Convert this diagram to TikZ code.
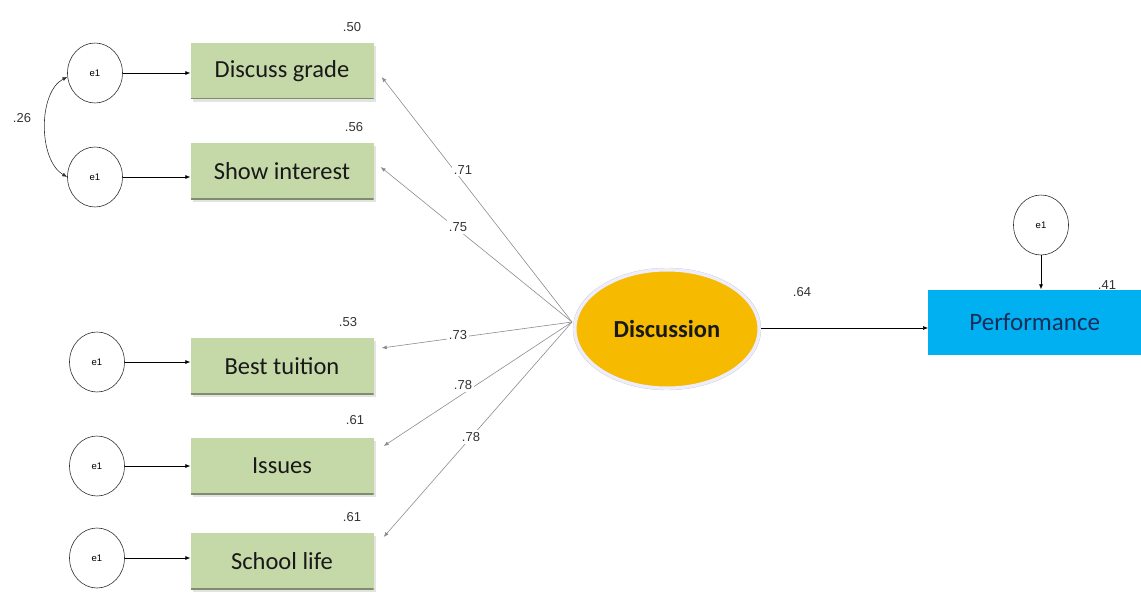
\documentclass[tikz,border=0pt]{standalone}
\usepackage{fontspec}
\setmainfont{Carlito}
\newfontfamily\labfont{Liberation Sans}
\usetikzlibrary{arrows.meta,shadows,shapes.geometric}
\definecolor{boxgreen}{RGB}{197,216,168}
\definecolor{discorange}{RGB}{246,186,0}
\definecolor{perfblue}{RGB}{0,176,240}
\definecolor{perftext}{RGB}{25,45,90}
\begin{document}
\begin{tikzpicture}[x=1pt,y=-1pt,
 obs/.style={rectangle,fill=boxgreen,minimum width=183pt,minimum height=56pt,
   font=\fontsize{24.5}{26}\selectfont,text=black!90,
   drop shadow={shadow xshift=2pt,shadow yshift=-3pt,fill=black!22},
   path picture={\draw[boxgreen!65!black,line width=2pt]
     (path picture bounding box.south west) -- (path picture bounding box.south east);}},
 err/.style={ellipse,draw=black!80,line width=0.6pt,minimum width=55pt,minimum height=60pt,
   font=\labfont\fontsize{9.5}{11}\selectfont,inner sep=0pt},
 num/.style={font=\labfont\fontsize{13}{15}\selectfont,text=black!80,inner sep=1pt},
 lnum/.style={num,fill=white,inner sep=2pt},
 load/.style={draw=black!45,line width=0.6pt,-{Latex[length=5pt,width=4pt]}},
 epath/.style={draw=black,line width=0.6pt,-{Latex[length=5pt,width=4pt]}}]
\useasboundingbox (0,0) rectangle (1141,599);

% observed variables
\node[obs] (dg) at (282,71) {Discuss grade};
\node[obs] (si) at (282,171) {Show interest};
\node[obs] (bt) at (282,366) {Best tuition};
\node[obs] (is) at (282,466) {Issues};
\node[obs] (sl) at (282,561) {School life};

% error terms
\node[err] (e1) at (95,73) {e1};
\node[err] (e2) at (95,177) {e1};
\node[err] (e3) at (97,362) {e1};
\node[err] (e4) at (97,466) {e1};
\node[err] (e5) at (97,558) {e1};
\node[err] (e6) at (1041,225) {e1};

% latent
\node[ellipse,fill=discorange,draw=blue!7,line width=3pt,minimum width=184pt,minimum height=118pt,
  font=\bfseries\fontsize{24.5}{26}\selectfont,text=black!90] (disc) at (667,329) {Discussion};
\draw[black!20,line width=0.4pt] (disc.center) ellipse (94pt and 61pt);

% outcome
\node[rectangle,fill=perfblue,minimum width=213pt,minimum height=65pt,anchor=west,
  font=\fontsize{25}{27}\selectfont,text=perftext] (perf) at (928,322) {Performance};

% error paths
\draw[epath] (e1.east) -- (e1.east -| dg.west);
\draw[epath] (e2.east) -- (e2.east -| si.west);
\draw[epath] (e3.east) -- (e3.east -| bt.west);
\draw[epath] (e4.east) -- (e4.east -| is.west);
\draw[epath] (e5.east) -- (e5.east -| sl.west);
\draw[epath] (e6.south) -- (e6.south |- perf.north);

% covariance
\draw[draw=black!80,line width=0.6pt,{Latex[length=5pt,width=4pt]}-{Latex[length=5pt,width=4pt]}]
  (e1.188) .. controls (38,92) and (38,160) .. (e2.180);
\node[num] (c26) at (22,118) {.26};

% loadings
\coordinate (src) at (572,322);
\draw[load] (src) -- ([xshift=8pt,yshift=-6pt]dg.east);
\draw[load] (src) -- ([xshift=7pt,yshift=4pt]si.east);
\draw[load] (src) -- ([xshift=8pt,yshift=18pt]bt.east);
\draw[load] (src) -- ([xshift=10pt,yshift=20pt]is.east);
\draw[load] (src) -- ([xshift=10pt,yshift=24pt]sl.east);
\draw[epath] (disc.east |- perf.west) ++(0,6) coordinate (dstart) -- (dstart -| perf.west);

% loading labels
\node[lnum] (l1) at (463,170) {.71};
\node[lnum] (l2) at (458,227) {.75};
\node[lnum] (l3) at (458,335) {.73};
\node[lnum] (l4) at (463,385) {.78};
\node[lnum] (l5) at (471,437) {.78};
\node[lnum] (l6) at (802,292) {.64};

% R squared
\node[num] (r1) at (352,27) {.50};
\node[num] (r2) at (354,127) {.56};
\node[num] (r3) at (348,322) {.53};
\node[num] (r4) at (355,420) {.61};
\node[num] (r5) at (352,517) {.61};
\node[num] (r6) at (1107,285) {.41};
\end{tikzpicture}
\end{document}
